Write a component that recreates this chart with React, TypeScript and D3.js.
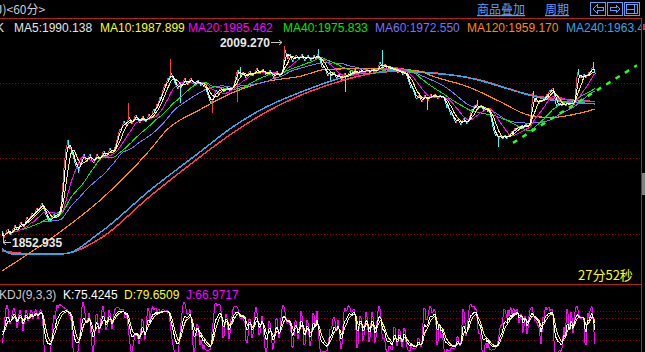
import * as d3 from 'd3'

// 60-minute closes, one bar per pixel column
const closes = [
  1860.5, 1856.8, 1858.9, 1861.2, 1863.0, 1864.3, 1862.1, 1860.4, 1859.2, 1861.5,
  1863.7, 1865.2, 1867.4, 1866.0, 1864.1, 1863.3, 1865.8, 1867.9, 1869.6, 1868.4,
  1866.9, 1866.0, 1868.3, 1870.9, 1873.2, 1872.0, 1870.4, 1871.8, 1874.5, 1876.9,
  1875.6, 1874.1, 1876.4, 1878.8, 1880.5, 1879.2, 1878.0, 1880.6, 1883.1, 1885.0,
  1883.4, 1880.7, 1878.2, 1875.5, 1873.9, 1872.0, 1870.3, 1871.8, 1869.9, 1872.4,
  1874.1, 1876.0, 1874.6, 1873.2, 1875.4, 1877.3, 1876.1, 1878.0, 1882.6, 1891.3,
  1900.8, 1912.5, 1920.2, 1927.4, 1931.0, 1934.6, 1930.2, 1927.5, 1929.0, 1925.8,
  1922.4, 1919.6, 1916.8, 1914.2, 1912.0, 1913.5, 1910.4, 1913.9, 1917.2, 1920.6,
  1922.0, 1923.6, 1921.1, 1918.7, 1917.3, 1919.4, 1921.8, 1923.2, 1921.5, 1919.0,
  1917.6, 1916.4, 1918.9, 1921.3, 1923.8, 1922.0, 1919.9, 1918.5, 1920.7, 1923.0,
  1924.9, 1926.3, 1924.6, 1922.8, 1921.6, 1923.7, 1926.0, 1928.2, 1927.0, 1925.3,
  1924.6, 1926.8, 1929.5, 1931.2, 1934.7, 1937.9, 1941.2, 1943.6, 1942.3, 1944.8,
  1947.5, 1949.6, 1948.1, 1946.2, 1947.9, 1950.4, 1952.7, 1951.0, 1948.8, 1947.3,
  1949.2, 1951.5, 1953.6, 1954.8, 1952.9, 1950.6, 1948.7, 1947.9, 1949.8, 1952.1,
  1953.4, 1951.8, 1949.6, 1948.7, 1950.9, 1953.3, 1955.0, 1953.6, 1952.0, 1954.6,
  1957.3, 1959.0, 1957.6, 1960.2, 1963.5, 1962.0, 1965.8, 1968.9, 1967.2, 1970.8,
  1974.3, 1977.0, 1979.1, 1978.0, 1981.4, 1983.9, 1982.1, 1985.3, 1987.9, 1986.0,
  1984.2, 1982.5, 1980.3, 1978.6, 1976.4, 1975.1, 1976.9, 1978.4, 1976.0, 1977.8,
  1980.2, 1982.4, 1983.5, 1981.8, 1979.9, 1978.6, 1980.8, 1982.7, 1984.0, 1982.2,
  1980.6, 1978.9, 1977.6, 1979.4, 1981.3, 1982.6, 1980.9, 1979.0, 1977.8, 1979.5,
  1978.2, 1976.5, 1977.9, 1975.6, 1973.1, 1970.4, 1968.0, 1965.9, 1964.2, 1965.7,
  1967.6, 1969.8, 1972.3, 1974.0, 1972.8, 1971.5, 1973.6, 1975.4, 1976.8, 1975.2,
  1973.9, 1972.4, 1974.1, 1976.0, 1977.3, 1975.8, 1974.2, 1973.5, 1975.3, 1977.1,
  1976.4, 1978.2, 1981.6, 1985.3, 1988.4, 1990.6, 1989.0, 1987.2, 1985.6, 1986.9,
  1988.8, 1987.1, 1985.2, 1983.9, 1984.8, 1986.6, 1988.5, 1989.7, 1988.1, 1986.4,
  1985.1, 1986.9, 1988.8, 1990.4, 1991.7, 1990.0, 1988.3, 1987.0, 1988.6, 1990.2,
  1991.3, 1989.6, 1987.8, 1986.4, 1985.2, 1986.7, 1988.9, 1990.1, 1988.5, 1986.9,
  1985.3, 1984.0, 1985.8, 1987.6, 1989.1, 1987.7, 1985.9, 1984.8, 1986.5, 1988.7,
  1991.0, 1998.6, 2006.4, 2004.0, 2001.3, 1999.2, 2001.8, 2003.2, 2001.0, 1998.4,
  1996.9, 1998.7, 2000.9, 2002.4, 2001.1, 1999.5, 1997.8, 1999.6, 2001.4, 2002.6,
  2001.0, 1999.2, 1997.6, 1998.9, 2000.7, 2001.9, 2000.3, 1998.6, 1997.2, 1998.8,
  2000.5, 2002.0, 2000.6, 1999.0, 2000.9, 2002.8, 2001.2, 1998.4, 1995.6, 1993.0,
  1991.5, 1993.4, 1991.8, 1989.3, 1987.0, 1985.2, 1986.8, 1988.6, 1986.9, 1985.3,
  1986.8, 1988.4, 1986.5, 1984.6, 1983.1, 1984.9, 1986.7, 1985.0, 1983.4, 1982.0,
  1983.8, 1985.9, 1987.6, 1986.0, 1984.3, 1985.8, 1987.9, 1989.4, 1988.0, 1986.5,
  1987.9, 1989.6, 1991.0, 1989.5, 1987.7, 1986.4, 1988.2, 1990.1, 1991.4, 1990.0,
  1988.3, 1987.1, 1988.9, 1990.6, 1991.8, 1990.2, 1988.6, 1987.5, 1989.3, 1991.2,
  1992.0, 1990.4, 1988.8, 1987.9, 1989.6, 1991.7, 1993.9, 1996.2, 1995.0, 1993.1,
  1991.6, 1993.4, 1995.2, 1993.6, 1991.8, 1990.3, 1991.9, 1993.5, 1992.0, 1990.2,
  1988.9, 1990.6, 1992.1, 1990.7, 1989.0, 1987.6, 1988.9, 1990.4, 1989.1, 1987.5,
  1986.2, 1987.8, 1989.2, 1987.6, 1985.4, 1983.3, 1981.0, 1978.4, 1976.2, 1977.9,
  1975.0, 1972.6, 1970.1, 1968.4, 1966.9, 1968.6, 1970.3, 1968.5, 1966.2, 1964.8,
  1966.7, 1968.9, 1970.4, 1969.0, 1967.2, 1966.0, 1967.8, 1969.7, 1971.0, 1969.6,
  1968.1, 1969.8, 1971.2, 1970.0, 1968.3, 1967.1, 1968.9, 1970.6, 1969.4, 1967.9,
  1969.2, 1968.0, 1965.6, 1963.1, 1960.4, 1961.8, 1959.0, 1956.5, 1954.7, 1955.9,
  1953.8, 1951.2, 1949.6, 1948.3, 1950.1, 1951.7, 1950.0, 1948.2, 1946.9, 1948.5,
  1950.3, 1951.8, 1950.2, 1948.6, 1947.5, 1949.2, 1951.0, 1953.9, 1956.8, 1959.5,
  1958.3, 1960.6, 1962.4, 1961.0, 1963.3, 1961.6, 1959.8, 1961.4, 1962.7, 1960.9,
  1959.3, 1957.6, 1958.9, 1960.4, 1958.8, 1957.0, 1958.5, 1956.2, 1952.8, 1948.6,
  1945.0, 1941.7, 1939.4, 1937.8, 1939.5, 1937.2, 1935.4, 1936.9, 1938.6, 1936.7,
  1935.2, 1936.8, 1938.9, 1937.3, 1935.8, 1937.6, 1939.4, 1938.0, 1940.1, 1941.7,
  1940.2, 1942.3, 1943.9, 1942.6, 1944.4, 1946.0, 1944.8, 1943.5, 1945.3, 1946.9,
  1945.4, 1944.1, 1945.9, 1947.4, 1946.0, 1944.6, 1946.2, 1947.5, 1953.9, 1963.6,
  1972.0, 1968.4, 1966.1, 1964.7, 1966.5, 1965.0, 1963.4, 1964.9, 1966.6, 1965.1,
  1966.8, 1968.5, 1967.0, 1969.3, 1971.2, 1970.0, 1972.4, 1974.1, 1973.0, 1975.2,
  1976.0, 1973.8, 1968.2, 1963.5, 1962.0, 1963.6, 1962.3, 1964.1, 1962.7, 1961.4,
  1962.9, 1964.5, 1963.2, 1961.9, 1963.6, 1965.2, 1963.8, 1962.4, 1964.0, 1965.3,
  1963.9, 1962.6, 1964.8, 1975.6, 1984.7, 1989.0, 1986.2, 1984.0, 1985.7, 1983.9,
  1985.2, 1986.9, 1985.3, 1983.8, 1985.6, 1987.4, 1988.9, 1987.2, 1989.6, 1991.8,
  1992.9, 1991.0, 1988.0, 1986.9,
]
const firstOpen = 1862.4

// long shadows as [bar index, price]
const highSpikes: [number, number][] = [
  [126, 1964.4], [168, 1998.8], [238, 1992.4], [282, 2009.27], [316, 2007.2],
  [380, 2005.9], [475, 1966.8], [531, 1973.2], [576, 1990.8], [591, 1996.4],
]
const lowSpikes: [number, number][] = [
  [1, 1852.935], [76, 1908.4], [178, 1964.4], [210, 1956.4], [235, 1965.2],
  [328, 1980.4], [343, 1972.4], [425, 1958.8], [496, 1929.2],
]

// long averages and the unnamed red line, read as [bar index, value]
const ma120Pts: [number, number][] = [
  [0, 1830.8], [60, 1862.8], [98, 1886.8], [148, 1926.8], [165, 1942.8], [198, 1958.8],
  [231, 1972.4], [265, 1981.2], [298, 1985.2], [325, 1990.8], [385, 1991.6], [418, 1989.2],
  [431, 1985.2], [465, 1977.2], [498, 1965.2], [525, 1954.8], [548, 1952.4], [571, 1954.8],
  [593, 1959.17],
]
const ma240Pts: [number, number][] = [
  [0, 1848.4], [9, 1844.4], [62, 1844.4], [98, 1861.2], [148, 1894.8], [198, 1925.2],
  [231, 1945.2], [265, 1961.2], [298, 1972.4], [325, 1980.4], [348, 1986.0], [378, 1990.8],
  [398, 1989.2], [431, 1987.6], [465, 1984.4], [498, 1977.2], [525, 1970.8], [541, 1967.6],
  [593, 1963.4],
]
const redPts: [number, number][] = [
  [0, 1846.8], [27, 1844.4], [60, 1844.4], [98, 1856.4], [148, 1890.0], [198, 1921.2],
  [231, 1940.4], [265, 1957.2], [298, 1970.0], [325, 1978.0], [378, 1988.4], [398, 1989.2],
  [475, 1982.8], [531, 1970.0], [593, 1965.2],
]
const trendPts: [number, number][] = [[511, 1932.4], [635, 1994.0]]

const maPeriods = [5, 10, 20, 40, 60]
const maColors = ['#ffffff', '#ffff00', '#ff00ff', '#00e800', '#7474ff']
const legend = [
  { text: 'MA5:1990.138', color: '#e4e4e4', x: 14 },
  { text: 'MA10:1987.899', color: '#ffff00', x: 100 },
  { text: 'MA20:1985.462', color: '#ff00ff', x: 188 },
  { text: 'MA40:1975.833', color: '#00e800', x: 283 },
  { text: 'MA60:1972.550', color: '#7474ff', x: 375 },
  { text: 'MA120:1959.170', color: '#ff8a00', x: 467 },
  { text: 'MA240:1963.433', color: '#32a6e6', x: 566 },
]
const priceGrid = [1860, 1920, 1980]
const kdjGrid = [100, 80, 50, 20]
const kdjText = [
  { text: 'KDJ(9,3,3)', color: '#c8c8c8', x: -1 },
  { text: 'K:75.4245', color: '#ffffff', x: 63 },
  { text: 'D:79.6509', color: '#ffff00', x: 124 },
  { text: 'J:66.9717', color: '#ff00ff', x: 186 },
]

const W = 645
const H = 352
const UP = '#ff3c3c'
const DOWN = '#40f8f8'
const GRID = '#9a0000'
const FRAME = '#b4201c'
const FONT = '"Liberation Sans", Arial, sans-serif'
const CJK = '"Noto Sans CJK SC", sans-serif'

type Bar = { o: number; c: number; h: number; l: number }

export default function App() {
  const n = closes.length
  const x = d3.scaleLinear().domain([0, n - 1]).range([2, 2 + (n - 1)])
  const y = d3.scaleLinear().domain([1852.935, 2009.27]).range([243, 46])
  const ky = d3.scaleLinear().domain([0, 100]).range([347.3, 310.6])

  const bars: Bar[] = closes.map((c, i) => {
    const o = i === 0 ? firstOpen : closes[i - 1]
    const hs = highSpikes.find(s => s[0] === i)
    const ls = lowSpikes.find(s => s[0] === i)
    return {
      o, c,
      h: Math.max(o, c, hs ? hs[1] : -Infinity),
      l: Math.min(o, c, ls ? ls[1] : Infinity),
    }
  })

  const mas = maPeriods.map(p =>
    closes.map((_, i) => d3.mean(closes.slice(Math.max(0, i - p + 1), i + 1)) as number))

  let k = 50
  let d = 50
  const kdj = bars.map((b, i) => {
    const win = bars.slice(Math.max(0, i - 8), i + 1)
    const hh = d3.max(win, w => w.h) as number
    const ll = d3.min(win, w => w.l) as number
    const rsv = hh === ll ? 50 : ((b.c - ll) / (hh - ll)) * 100
    k = (2 * k + rsv) / 3
    d = (2 * d + k) / 3
    return { k, d, j: 3 * k - 2 * d }
  })

  const line = d3.line<number>().x((_, i) => x(i)).y(v => y(v))
  const ptLine = d3.line<[number, number]>().x(p => x(p[0])).y(p => y(p[1])).curve(d3.curveMonotoneX)
  const kLine = (key: 'k' | 'd' | 'j') =>
    d3.line<{ k: number; d: number; j: number }>().x((_, i) => x(i)).y(v => ky(v[key]))(kdj) || ''

  const hiIdx = d3.maxIndex(bars, b => b.h)
  const loIdx = d3.minIndex(bars, b => b.l)
  const hx = Math.round(x(hiIdx))
  const hy = Math.round(y(bars[hiIdx].h))
  const lx = Math.round(x(loIdx))
  const ly = Math.round(y(bars[loIdx].l))

  const btnX = [590, 607, 624]

  return (
    <svg width={W} height={H} style={{ position: 'fixed', left: 0, top: 0, background: '#000' }}
      fontFamily={FONT}>
      <defs>
        <clipPath id="main"><rect x={0} y={34} width={641} height={250} /></clipPath>
        <clipPath id="sub"><rect x={0} y={286} width={641} height={66} /></clipPath>
        <clipPath id="leg"><rect x={0} y={19} width={641} height={20} /></clipPath>
      </defs>
      <rect width={W} height={H} fill="#000" />

      {/* header */}
      <text x={-4} y={14} fontSize={12} fill="#d0d0d0" fontFamily={CJK}>J)&lt;60分&gt;</text>
      <text x={477} y={14} fontSize={12} fill="#5e9cf5" fontFamily={CJK} textDecoration="underline">商品叠加</text>
      <text x={545} y={14} fontSize={12} fill="#5e9cf5" fontFamily={CJK} textDecoration="underline">周期</text>
      {btnX.map((bx, bi) => (
        <g key={bi} stroke="#5e9cf5" fill="none" shapeRendering="crispEdges">
          <rect x={bx + 0.5} y={2.5} width={15} height={13} />
          {bi === 0 && <path d={`M${bx + 3},9 L${bx + 7},5 L${bx + 7},7.5 L${bx + 13},7.5 L${bx + 13},10.5 L${bx + 7},10.5 L${bx + 7},13 Z`} />}
          {bi === 1 && <path d={`M${bx + 13},9 L${bx + 9},5 L${bx + 9},7.5 L${bx + 3},7.5 L${bx + 3},10.5 L${bx + 9},10.5 L${bx + 9},13 Z`} />}
          {bi === 2 && <path d={`M${bx + 2.5},4.5 H${bx + 13.5} V13.5 H${bx + 2.5} Z M${bx + 10.5},4.5 V13.5 M${bx + 2.5},9.5 H${bx + 10.5}`} />}
        </g>
      ))}
      <line x1={0} x2={641} y1={18.5} y2={18.5} stroke={FRAME} />
      <line x1={641.5} x2={641.5} y1={18} y2={H} stroke={FRAME} />
      <rect x={643} y={24} width={2} height={6} fill="#ff2020" />
      <rect x={642} y={173} width={3} height={22} fill="#808080" />

      {/* legend */}
      <g clipPath="url(#leg)">
        <text x={-4} y={32} fontSize={12} fill="#e4e4e4">K</text>
        {legend.map(l => (
          <text key={l.text} x={l.x} y={32} fontSize={12} fill={l.color}>{l.text}</text>
        ))}
      </g>

      {/* grid */}
      {priceGrid.map(p => (
        <line key={p} x1={0} x2={641} y1={Math.round(y(p)) + 0.5} y2={Math.round(y(p)) + 0.5}
          stroke={GRID} strokeDasharray="1,2" />
      ))}

      <g clipPath="url(#main)">
        <g shapeRendering="crispEdges">
          {bars.map((b, i) => {
            const hT = Math.round(y(b.h))
            const lB = Math.round(y(b.l))
            return (
              <rect key={i} x={Math.round(x(i)) - 0.5} y={hT} width={1.5} height={Math.max(1, lB - hT)}
                fill={b.c >= b.o ? UP : DOWN} />
            )
          })}
        </g>
        <g fill="none" shapeRendering="crispEdges">
          <path d={ptLine(redPts) || ''} stroke="#ff3858" strokeWidth={1.5} />
          <path d={ptLine(ma240Pts) || ''} stroke="#32a6e6" strokeWidth={1.5} />
          <path d={ptLine(ma120Pts) || ''} stroke="#ff8a00" strokeWidth={1.2} />
          {mas.slice().reverse().map((m, ri) => (
            <path key={ri} d={line(m) || ''} stroke={maColors[maColors.length - 1 - ri]} strokeWidth={1} />
          ))}
        </g>
        <path d={d3.line<[number, number]>().x(p => x(p[0])).y(p => y(p[1]))(trendPts) || ''}
          fill="none" stroke="#22ff22" strokeWidth={2.5} strokeDasharray="5,6" />
      </g>

      {/* extreme labels */}
      <text x={hx - 14} y={hy + 1} fontSize={12} fontWeight="bold" fill="#e8e8e8" textAnchor="end">2009.270</text>
      <path d={`M${hx - 13},${hy - 3.5} H${hx - 2} M${hx - 5},${hy - 6} L${hx - 2},${hy - 3.5} L${hx - 5},${hy - 1}`}
        stroke="#c8c8c8" fill="none" />
      <text x={lx + 9} y={ly + 4} fontSize={12} fontWeight="bold" fill="#e8e8e8">1852.935</text>
      <path d={`M${lx},${ly - 0.5} H${lx + 8} M${lx + 3},${ly - 3} L${lx},${ly - 0.5} L${lx + 3},${ly + 2}`}
        stroke="#c8c8c8" fill="none" />

      <text x={578} y={280} fontSize={13} fill="#ffff00" fontFamily={CJK}>27分52秒</text>

      {/* KDJ */}
      <line x1={0} x2={641} y1={284.5} y2={284.5} stroke={FRAME} />
      {kdjText.map(t => (
        <text key={t.text} x={t.x} y={299} fontSize={12} fill={t.color}>{t.text}</text>
      ))}
      {kdjGrid.map(v => (
        <line key={v} x1={0} x2={641} y1={Math.round(ky(v)) + 0.5} y2={Math.round(ky(v)) + 0.5}
          stroke={GRID} strokeDasharray="1,2" />
      ))}
      <g clipPath="url(#sub)" fill="none" shapeRendering="crispEdges">
        <path d={kLine('j')} stroke="#ff00ff" strokeWidth={1} />
        <path d={kLine('d')} stroke="#ffff00" strokeWidth={1} />
        <path d={kLine('k')} stroke="#ffffff" strokeWidth={1} />
      </g>
    </svg>
  )
}
